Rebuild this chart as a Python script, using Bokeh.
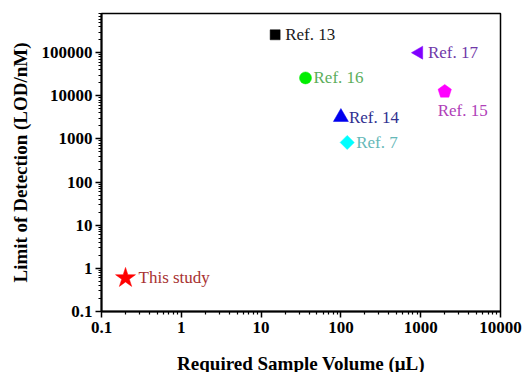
import math
from bokeh.plotting import figure
from bokeh.models import ColumnDataSource, FixedTicker, Range1d
from bokeh.core.properties import value
from bokeh.embed import file_html
from bokeh.resources import INLINE

# ---- data ----
labels = ["This study", "Ref. 13", "Ref. 16", "Ref. 14", "Ref. 7", "Ref. 17"]
volume = [0.2, 15, 36, 100, 120, 950]
lod = [0.6, 2.6e5, 2.6e4, 3.2e3, 830, 1.0e5]

pent_label = "Ref. 15"
pent_volume = 2000
pent_lod = 1.26e4

x_ticks = [0.1, 1, 10, 100, 1000, 10000]
y_ticks = [0.1, 1, 10, 100, 1000, 10000, 100000]
x_tick_labels = ["0.1", "1", "10", "100", "1000", "10000"]
y_tick_labels = ["0.1", "1", "10", "100", "1000", "10000", "100000"]

# ---- styles ----
markers = ["star", "square", "circle", "triangle", "square", "triangle"]
angles = [0, 0, 0, 0, math.pi / 4, math.pi / 2]
sizes = [21, 10, 12, 15, 10, 13]
fill_colors = ["#ff0000", "#000000", "#00ee00", "#0000ee", "#00ffff", "#8000ff"]
text_colors = ["#a83232", "#1a1a1a", "#5cae5c", "#303090", "#66b8b8", "#7038a8"]
dx = [13, 10, 8, 8, 9, 9]
dy = [0, 0, 0, 0, 0, 0]
pent_fill = "#ff00ff"
pent_text_color = "#b040b8"

FONT = "Liberation Serif"
XMIN, XMAX = 0.1, 10000
YMIN, YMAX = 0.1, 8.1e5
FW, FH = 399, 298

p = figure(
    x_axis_type="log", y_axis_type="log",
    x_range=Range1d(XMIN, XMAX), y_range=Range1d(YMIN, YMAX),
    frame_width=FW, frame_height=FH,
    min_border_left=101, min_border_right=27, min_border_top=13, min_border_bottom=61,
    output_backend="svg", toolbar_location=None,
)
p.grid.visible = False
p.outline_line_color = "#000000"
p.outline_line_width = 1.5
p.background_fill_color = "white"
p.border_fill_color = "white"

def minors(majors):
    out = []
    for m in majors[:-1]:
        for k in range(2, 10):
            out.append(m * k)
    out.extend([majors[-1] * k for k in range(2, 10)])
    return out

p.xaxis.ticker = FixedTicker(ticks=x_ticks, minor_ticks=minors(x_ticks))
p.yaxis.ticker = FixedTicker(ticks=y_ticks, minor_ticks=minors(y_ticks))
p.xaxis.major_label_overrides = {t: l for t, l in zip(x_ticks, x_tick_labels)}
p.yaxis.major_label_overrides = {t: l for t, l in zip(y_ticks, y_tick_labels)}

for ax in (p.xaxis, p.yaxis):
    ax.axis_line_width = 2
    ax.axis_line_color = "#000000"
    ax.major_tick_line_width = 1.5
    ax.minor_tick_line_width = 1.2
    ax.major_tick_in = 0
    ax.major_tick_out = 6
    ax.minor_tick_in = 0
    ax.minor_tick_out = 3
    ax.major_label_text_font = FONT
    ax.major_label_text_font_style = "bold"
    ax.major_label_text_font_size = "17px"
    ax.major_label_text_color = "#000000"
    ax.axis_label_text_font = FONT
    ax.axis_label_text_font_style = "bold"
    ax.axis_label_text_font_size = "19px"
    ax.axis_label_text_color = "#000000"

p.xaxis.axis_label = "Required Sample Volume (\u03bcL)"
p.yaxis.axis_label = "Limit of Detection (LOD/nM)"
p.xaxis.major_label_standoff = 4
p.yaxis.major_label_standoff = 3
p.xaxis.axis_label_standoff = 17
p.yaxis.axis_label_standoff = 8

src = ColumnDataSource(dict(
    x=volume, y=lod, label=labels, marker=markers, angle=angles, size=sizes,
    fc=fill_colors, tc=text_colors, dx=dx, dy=dy,
))
p.scatter(x="x", y="y", marker="marker", size="size", angle="angle",
          fill_color="fc", line_color="fc", line_width=0.5, source=src)
p.text(x="x", y="y", text="label", x_offset="dx", y_offset="dy", text_color="tc",
       text_font=value(FONT), text_font_size="17px", text_baseline="middle",
       text_align="left", source=src)

# pentagon marker, built in log space around its data point
ppd_x = FW / (math.log10(XMAX) - math.log10(XMIN))
ppd_y = FH / (math.log10(YMAX) - math.log10(YMIN))
r_px = 7.0
cx, cy = math.log10(pent_volume), math.log10(pent_lod)
px, py = [], []
for i in range(5):
    a = math.pi / 2 + i * 2 * math.pi / 5
    px.append(10 ** (cx + r_px * math.cos(a) / ppd_x))
    py.append(10 ** (cy + r_px * math.sin(a) / ppd_y))
p.patch(px, py, fill_color=pent_fill, line_color=pent_fill, line_width=0.5)
p.text(x=[pent_volume], y=[pent_lod], text=[pent_label], x_offset=18, y_offset=19,
       text_color=pent_text_color, text_font=value(FONT), text_font_size="17px",
       text_baseline="middle", text_align="center")

open("out.html", "w").write(file_html(p, INLINE))
